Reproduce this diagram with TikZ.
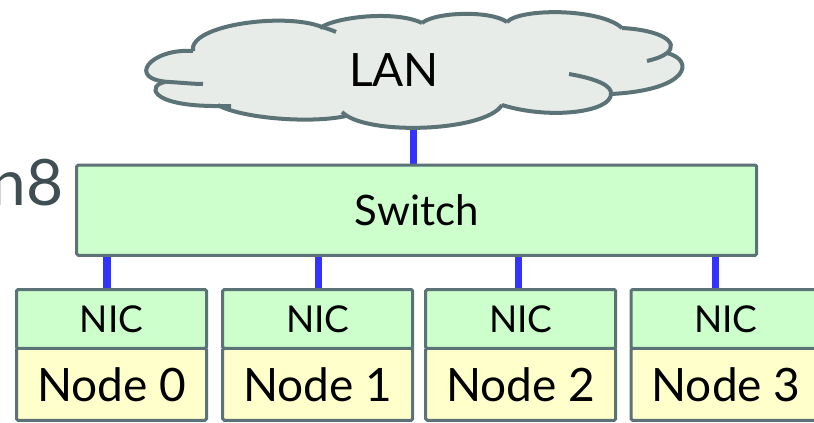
\documentclass[tikz,border=0pt]{standalone}
\usepackage{fontspec}
\setmainfont{Lato}
\usetikzlibrary{backgrounds}
\definecolor{edgegray}{RGB}{91,115,119}
\definecolor{cloudfill}{RGB}{232,236,233}
\definecolor{boxgreen}{RGB}{204,255,204}
\definecolor{boxyellow}{RGB}{255,255,204}
\definecolor{linkblue}{RGB}{51,51,255}
\definecolor{titlegray}{RGB}{62,78,82}

\begin{document}
\begin{tikzpicture}[x=1pt,y=-1pt,
  box/.style={draw=edgegray, line width=3pt, rounded corners=1.5pt,
    inner sep=0pt, outer sep=0pt, anchor=north west},
  nicbox/.style={box, fill=boxgreen, minimum width=190pt, minimum height=59pt,
    font=\fontsize{37}{40}\selectfont},
  hostbox/.style={box, fill=boxyellow, minimum width=190pt, minimum height=72pt,
    font=\fontsize{46}{50}\selectfont},
  link/.style={draw=linkblue, line width=7.5pt},
  cloudline/.style={draw=edgegray, line width=4pt}]

\useasboundingbox (0,0) rectangle (814,423);
\clip (0,0) rectangle (814,423);

% heading text running in from the left
\node[anchor=base east, inner sep=0pt, text=titlegray,
  font=\fontsize{64}{70}\selectfont] (title) at (64,205) {n8};

% LAN cloud: fill first, then the bump outlines with their inner tails
\fill[cloudfill] (193,51) .. controls (188,25) and (285,12) .. (322,27)
  .. controls (335,17) and (395,10) .. (422,23)
  .. controls (435,12) and (490,10) .. (507,22)
  .. controls (520,8) and (600,8) .. (622,28)
  .. controls (660,30) and (680,42) .. (667,53)
  .. controls (695,60) and (690,90) .. (611,94)
  .. controls (611,112) and (550,120) .. (502,105)
  .. controls (485,132) and (365,136) .. (342,112)
  -- (344,114) .. controls (310,124) and (240,118) .. (218,105)
  -- (212,106) .. controls (148,105) and (148,85) .. (165,82)
  -- (170,82) .. controls (125,80) and (150,48) .. (193,51) -- cycle;
\draw[cloudline] (193,51) .. controls (188,25) and (285,12) .. (322,27)
  .. controls (328,29) and (332,30) .. (336,32);
\draw[cloudline] (320,28) .. controls (335,17) and (395,10) .. (422,23);
\draw[cloudline] (422,23) .. controls (435,12) and (490,10) .. (507,22);
\draw[cloudline] (507,22) .. controls (520,8) and (600,8) .. (622,28);
\draw[cloudline] (622,28) .. controls (660,30) and (680,42) .. (667,53)
  .. controls (662,57) and (655,59) .. (647,61);
\draw[cloudline] (667,53) .. controls (695,60) and (690,90) .. (611,94);
\draw[cloudline] (569,74) .. controls (598,79) and (612,86) .. (611,94)
  .. controls (611,112) and (550,120) .. (502,105);
\draw[cloudline] (502,105) .. controls (485,132) and (365,136) .. (342,112);
\draw[cloudline] (218,105) .. controls (240,118) and (310,124) .. (346,116);
\draw[cloudline] (165,82) .. controls (148,85) and (148,105) .. (212,106) -- (231,106);
\draw[cloudline] (193,51) .. controls (150,48) and (125,80) .. (170,82)
  .. controls (185,83) and (195,84) .. (203,84);

\node[font=\fontsize{46}{50}\selectfont, inner sep=0pt] (lan) at (394,70) {LAN};
\coordinate (lanport) at (413.3,126);

% switch
\node[box, fill=boxgreen, minimum width=680pt, minimum height=90.3pt,
  font=\fontsize{42}{46}\selectfont] (switch) at (76.7,165) {Switch};

% hosts, each with its NIC on top
\foreach \i/\x/\p in {0/16.5/107, 1/222.7/318.7, 2/425.7/518.7, 3/631/715.3} {
  \node[nicbox] (nic\i) at (\x,289.5) {NIC};
  \node[hostbox] (host\i) at (\x,348.3) {Node \i};
  \coordinate (port\i) at (\p,0);
}

% cabling
\begin{scope}[on background layer]
  \draw[link] (lanport) -- (lanport |- switch.north);
  \foreach \i in {0,1,2,3}
    \draw[link] (switch.south -| port\i) -- (nic\i.north -| port\i);
\end{scope}
\end{tikzpicture}
\end{document}
